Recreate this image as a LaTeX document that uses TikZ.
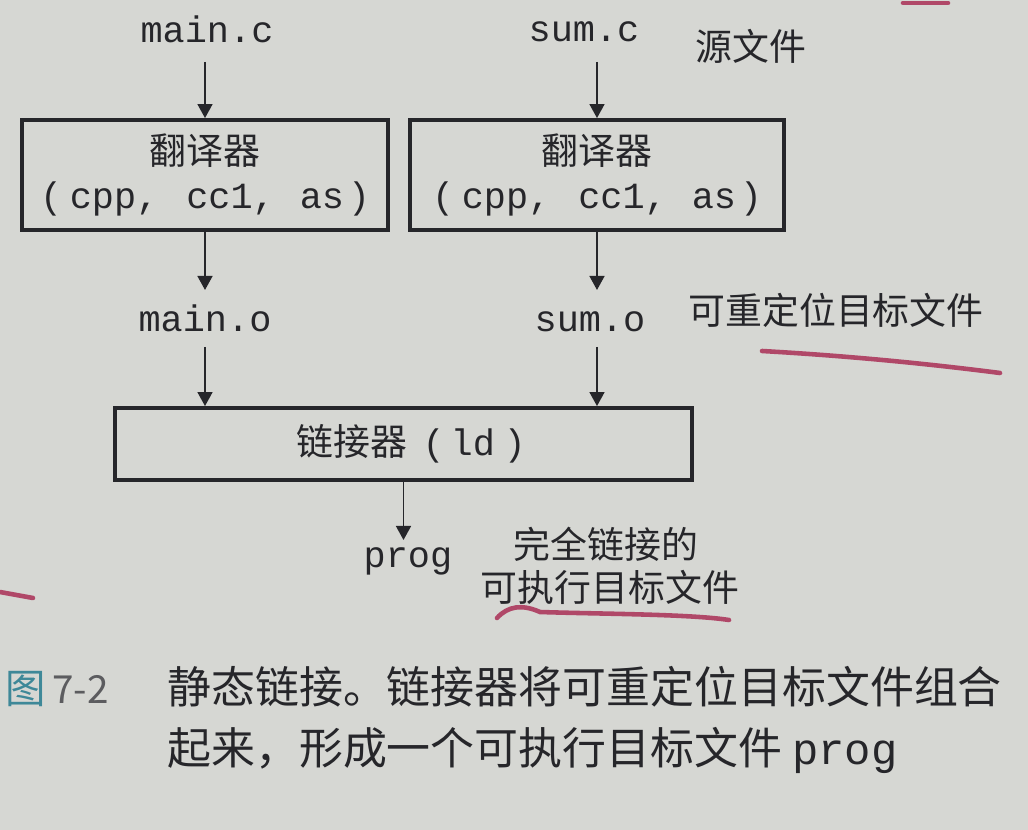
\documentclass[tikz,border=0pt]{standalone}
\usepackage{fontspec}
\setmainfont{Noto Sans CJK SC}
\setmonofont{Liberation Mono}
\usetikzlibrary{arrows.meta,calc}
\definecolor{paper}{RGB}{214,215,211}
\definecolor{ink}{RGB}{38,38,42}
\definecolor{pen}{RGB}{176,72,104}
\definecolor{figblue}{RGB}{62,136,152}
\newcommand\toolchain{\texttt{(}\hspace{4.4pt}\texttt{cpp,}\hspace{15.9pt}\texttt{cc1,}\hspace{14.2pt}\texttt{as}\hspace{2.1pt}\texttt{)}}
\begin{document}
\begin{tikzpicture}[
		x=0.02cm, y=-0.02cm,
		every node/.style={inner sep=0pt, text=ink, font=\fontsize{21}{25.5}\selectfont},
		file/.style={anchor=base, font=\fontsize{21}{25.5}\selectfont\ttfamily},
		note/.style={anchor=base},
		stage/.style={draw=ink, line width=2.2pt, align=center},
		arr/.style={draw=ink, line width=1.1pt, -{Triangle[length=8pt,width=8.5pt]}},
		penline/.style={draw=pen, line width=2.6pt, line cap=round},
		caption/.style={anchor=base west, font=\fontsize{25}{30}\selectfont}]
		
		\fill[paper] (0,0) rectangle (1028,830);
		\useasboundingbox (0,0) rectangle (1028,830);
		
		% source files
		\node[file] (mainc) at (207,43) {main.c};
		\node[file] (sumc) at (584,42) {sum.c};
		\node[note] (src) at (751,61) {源文件};
		
		% translators
		\node[stage, minimum width=7.32cm, minimum height=2.2cm] (box1) at (205,175)
			{翻译器\\\toolchain};
		\node[stage, minimum width=7.48cm, minimum height=2.2cm] (box2) at (597,175)
			{翻译器\\\toolchain};
		
		% relocatable objects
		\node[file] (maino) at (205,332) {main.o};
		\node[file] (sumo) at (590,332) {sum.o};
		\node[note] (reloc) at (836,325) {可重定位目标文件};
		
		% linker and result
		\node[stage, minimum width=11.54cm, minimum height=1.44cm] (linker) at (403.5,444)
			{\hspace{9pt}链接器\hspace{8.5pt}\texttt{(}\hspace{3.4pt}\texttt{ld}\hspace{5pt}\texttt{)}};
		\node[file] (prog) at (408,568) {prog};
		\node[note] (exec1) at (606,559) {完全链接的};
		\node[note] (exec2) at (610,602) {可执行目标文件};
		
		\draw[arr] ($(box1.north |- mainc.base)+(0,19)$) -- (box1.north);
		\draw[arr] ($(box2.north |- sumc.base)+(0,20)$) -- (box2.north);
		\draw[arr] (box1.south) -- ($(box1.south |- maino.base)+(0,-42)$);
		\draw[arr] (box2.south) -- ($(box2.south |- sumo.base)+(0,-42)$);
		\draw[arr] ($(box1.south |- maino.base)+(0,15)$) -- (box1.south |- linker.north);
		\draw[arr] ($(box2.south |- sumo.base)+(0,15)$) -- (box2.south |- linker.north);
		\draw[arr] (linker.south) -- ($(linker.south |- prog.base)+(0,-28)$);
		
		% caption
		\node[caption, font=\fontsize{23}{28}\selectfont, text=figblue] (fignum) at (5,704) {图};
		\node[caption, font=\fontsize{22}{28}\selectfont, text=ink!75] (figid) at (52,704) {7-2};
		\node[caption] (cap1) at (167,704) {静态链接。链接器将可重定位目标文件组合};
		\node[caption] (cap2) at (167,765) {起来，形成一个可执行目标文件 \texttt{prog}};
		
		% pen marks
		\draw[penline] (762,351) .. controls (850,356) and (930,364) .. (1000,373);
		\draw[penline] (497,618) .. controls (508,606) and (522,604) .. (540,612)
			.. controls (600,614) and (690,614) .. (729,620);
		\draw[penline] (0,592) -- (33,598);
		\draw[penline] (903,3) -- (948,3);
		
	\end{tikzpicture}
\end{document}
